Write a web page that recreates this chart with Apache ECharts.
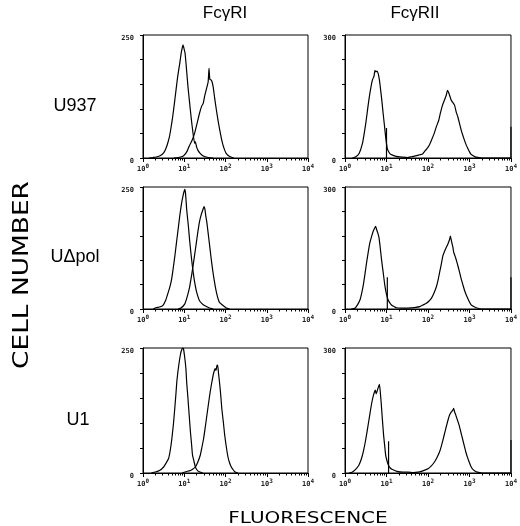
<!DOCTYPE html>
<html>
<head>
<meta charset="utf-8">
<script src="https://cdn.jsdelivr.net/npm/echarts@6/dist/echarts.min.js"></script>
<style>
  html, body { margin: 0; padding: 0; background: #fff; }
  #chart { width: 520px; height: 526px; }
</style>
</head>
<body>
<div id="chart"></div>
<script>
// x = fluorescence in decades (log10), y = cell count per channel
const columnTitles = ['FcγRI', 'FcγRII'];
const rowTitles = ['U937', 'UΔpol', 'U1'];
const yMax = [250, 300];
const yStep = [50, 60];
const decadeExp = ['0', '1', '2', '3', '4'];
const minorFactors = [2, 3, 4, 5, 6, 7, 8, 9];

// U937 / FcγRI : control + antibody
const u937RIctrl = [[0.15,0],[0.24,1],[0.32,2],[0.4,4],[0.46,7],[0.52,13],[0.58,25],[0.64,43],[0.68,62],[0.72,84],[0.76,110],[0.8,138],[0.84,165],[0.89,192],[0.93,215],[0.97,230],[0.99,224],[1.02,213],[1.05,185],[1.09,145],[1.13,112],[1.17,80],[1.21,52],[1.25,30],[1.27,33],[1.3,22],[1.33,16],[1.38,10],[1.46,4],[1.58,1],[1.7,0]];
const u937RIab = [[0.75,0],[0.85,1],[0.95,3],[1.0,6],[1.07,14],[1.13,26],[1.19,36],[1.25,50],[1.31,70],[1.37,91],[1.42,105],[1.46,111],[1.5,128],[1.54,141],[1.58,155],[1.6,182],[1.62,160],[1.66,158],[1.7,145],[1.74,120],[1.78,97],[1.82,76],[1.86,57],[1.9,40],[1.94,26],[1.98,16],[2.02,9],[2.1,3],[2.2,0]];

// U937 / FcγRII
const u937RII = [[0.18,0],[0.26,3],[0.34,11],[0.42,35],[0.46,58],[0.5,84],[0.54,115],[0.58,145],[0.62,170],[0.66,190],[0.7,200],[0.72,214],[0.74,210],[0.77,212],[0.8,206],[0.83,190],[0.86,165],[0.89,138],[0.92,108],[0.95,80],[0.98,51],[1.02,23],[1.06,14],[1.1,9],[1.23,4],[1.39,2],[1.5,1],[1.6,3],[1.7,5],[1.8,8],[1.87,10],[1.91,15],[1.97,22],[2.03,31],[2.09,45],[2.15,60],[2.2,76],[2.26,92],[2.3,110],[2.35,129],[2.4,142],[2.44,153],[2.47,165],[2.5,159],[2.53,150],[2.56,141],[2.6,135],[2.64,129],[2.68,112],[2.72,100],[2.76,84],[2.8,68],[2.84,55],[2.88,43],[2.92,32],[2.96,23],[3.0,15],[3.04,9],[3.1,5],[3.16,2],[3.3,0],[4,0]];
const u937RIIspikes = [[1.0,73],[4.0,76]];

// UΔpol / FcγRI
const udpolRIctrl = [[0.25,0],[0.32,3],[0.4,4],[0.48,7],[0.55,18],[0.6,31],[0.65,45],[0.69,59],[0.73,82],[0.77,107],[0.81,135],[0.85,162],[0.89,190],[0.93,214],[0.97,232],[1.01,245],[1.03,238],[1.06,203],[1.1,170],[1.13,141],[1.17,108],[1.21,79],[1.25,56],[1.29,38],[1.33,26],[1.37,17],[1.43,11],[1.49,7],[1.61,2],[1.7,0]];
const udpolRIab = [[0.85,0],[0.92,2],[1.01,10],[1.07,25],[1.13,45],[1.17,65],[1.21,86],[1.25,110],[1.29,134],[1.33,158],[1.37,179],[1.41,193],[1.45,203],[1.48,210],[1.5,205],[1.52,192],[1.55,176],[1.58,155],[1.61,134],[1.65,105],[1.69,79],[1.73,57],[1.77,38],[1.81,24],[1.85,14],[1.94,7],[2.02,2],[2.1,0]];

// UΔpol / FcγRII
const udpolRII = [[0.15,0],[0.24,2],[0.3,10],[0.36,22],[0.4,38],[0.44,58],[0.48,85],[0.52,114],[0.56,140],[0.6,163],[0.64,178],[0.68,191],[0.71,198],[0.74,203],[0.76,196],[0.79,187],[0.82,175],[0.85,150],[0.88,122],[0.92,90],[0.96,58],[1.0,36],[1.04,22],[1.08,15],[1.12,10],[1.18,6],[1.24,3],[1.35,2],[1.48,2],[1.6,3],[1.7,4],[1.8,6],[1.88,10],[1.96,14],[2.02,19],[2.08,26],[2.14,38],[2.2,54],[2.24,70],[2.28,90],[2.32,110],[2.36,131],[2.4,142],[2.44,151],[2.48,160],[2.52,171],[2.54,179],[2.57,165],[2.6,152],[2.62,139],[2.66,128],[2.7,114],[2.75,95],[2.8,74],[2.84,60],[2.88,46],[2.92,35],[2.96,26],[3.0,17],[3.04,10],[3.1,6],[3.16,3],[3.3,0],[4,0]];
const udpolRIIspikes = [[1.02,78],[4.0,78]];

// U1 / FcγRI
const u1RIctrl = [[0.2,0],[0.3,2],[0.4,5],[0.5,12],[0.56,20],[0.62,29],[0.66,45],[0.7,69],[0.74,100],[0.77,129],[0.8,160],[0.82,183],[0.85,205],[0.88,223],[0.91,238],[0.94,247],[0.96,250],[0.98,249],[1.01,232],[1.04,209],[1.06,180],[1.09,149],[1.12,115],[1.15,82],[1.18,55],[1.2,36],[1.24,22],[1.27,12],[1.31,6],[1.35,3],[1.45,0]];
const u1RIab = [[0.95,0],[1.02,2],[1.1,4],[1.15,5],[1.21,8],[1.27,12],[1.33,22],[1.39,36],[1.43,52],[1.47,69],[1.51,92],[1.55,116],[1.59,140],[1.63,163],[1.67,182],[1.71,199],[1.75,209],[1.77,205],[1.79,214],[1.81,216],[1.83,200],[1.85,185],[1.87,169],[1.89,150],[1.91,129],[1.95,100],[1.98,76],[2.02,52],[2.06,32],[2.1,20],[2.14,12],[2.19,6],[2.23,2],[2.3,0]];

// U1 / FcγRII
const u1RII = [[0.1,0],[0.17,2],[0.25,8],[0.33,18],[0.37,27],[0.41,39],[0.45,55],[0.49,75],[0.53,98],[0.57,123],[0.61,148],[0.65,171],[0.69,188],[0.73,199],[0.75,190],[0.77,195],[0.8,205],[0.83,213],[0.85,195],[0.87,171],[0.9,130],[0.93,91],[0.96,62],[0.98,43],[1.01,30],[1.05,18],[1.09,12],[1.13,9],[1.25,4],[1.4,2],[1.52,2],[1.65,1],[1.76,2],[1.84,4],[1.92,7],[2.0,10],[2.08,17],[2.16,27],[2.22,38],[2.28,51],[2.32,64],[2.36,79],[2.4,95],[2.44,111],[2.48,126],[2.52,139],[2.56,146],[2.6,151],[2.62,155],[2.64,147],[2.67,139],[2.71,127],[2.75,115],[2.79,99],[2.83,83],[2.87,67],[2.91,51],[2.95,38],[2.99,27],[3.03,17],[3.07,10],[3.13,5],[3.19,2],[3.3,0],[4,0]];
const u1RIIspikes = [[1.05,76],[4.0,79]];

const panels = [
  { row: 0, col: 0, curves: [u937RIctrl, u937RIab], spikes: [] },
  { row: 0, col: 1, curves: [u937RII], spikes: u937RIIspikes },
  { row: 1, col: 0, curves: [udpolRIctrl, udpolRIab], spikes: [] },
  { row: 1, col: 1, curves: [udpolRII], spikes: udpolRIIspikes },
  { row: 2, col: 0, curves: [u1RIctrl, u1RIab], spikes: [] },
  { row: 2, col: 1, curves: [u1RII], spikes: u1RIIspikes }
];

const colLeft = [143, 345];
const colWidth = [165, 167];
const rowTop = [35, 187, 348];
const rowHeight = [123, 122, 125];

// minor log ticks between decades
const minorTicks = [];
for (let d = 0; d < 4; d++) {
  minorFactors.forEach(function (k) { minorTicks.push(d + Math.log10(k)); });
}

const tickFont = 'DejaVu Sans Mono';
const grid = [], xAxis = [], yAxis = [], series = [];

panels.forEach(function (p, i) {
  grid.push({
    left: colLeft[p.col], top: rowTop[p.row],
    width: colWidth[p.col], height: rowHeight[p.row],
    show: true, borderColor: '#000', borderWidth: 1
  });
  // decades, with labels
  xAxis.push({
    type: 'value', gridIndex: i, min: 0, max: 4, interval: 1, position: 'bottom',
    axisLine: { show: true, onZero: false, lineStyle: { color: '#000', width: 1 } },
    axisTick: { show: true, length: 4, lineStyle: { color: '#000' } },
    splitLine: { show: false },
    axisLabel: {
      margin: 5, color: '#222',
      showMinLabel: true, showMaxLabel: true,
      formatter: function (v) { return '{b|10}{e|' + decadeExp[Math.round(v)] + '}'; },
      rich: {
        b: { fontFamily: tickFont, fontWeight: 'bold', fontSize: 7, lineHeight: 10, verticalAlign: 'bottom' },
        e: { fontFamily: tickFont, fontWeight: 'bold', fontSize: 6, lineHeight: 6, verticalAlign: 'top' }
      }
    }
  });
  // minor ticks only
  xAxis.push({
    type: 'value', gridIndex: i, min: 0, max: 4, position: 'bottom',
    axisLine: { show: false },
    axisLabel: { show: false },
    splitLine: { show: false },
    axisTick: { show: true, length: 2.5, customValues: minorTicks, lineStyle: { color: '#000' } }
  });
  const top = yMax[p.col];
  yAxis.push({
    type: 'value', gridIndex: i, min: 0, max: top, interval: yStep[p.col],
    axisLine: { show: true, lineStyle: { color: '#000', width: 1 } },
    axisTick: { show: true, length: 3, lineStyle: { color: '#000' } },
    splitLine: { show: false },
    axisLabel: {
      margin: 9, fontFamily: tickFont, fontWeight: 'bold', fontSize: 7, color: '#222',
      verticalAlign: 'top', showMinLabel: true, showMaxLabel: true,
      formatter: function (v) { return (v === 0 || v === top) ? String(v) : ''; }
    }
  });
  p.curves.forEach(function (c) {
    series.push({
      type: 'line', xAxisIndex: 2 * i, yAxisIndex: i, data: c,
      showSymbol: false, smooth: 0.15,
      lineStyle: { color: '#000', width: 1.2 }
    });
  });
  p.spikes.forEach(function (s) {
    series.push({
      type: 'line', xAxisIndex: 2 * i, yAxisIndex: i,
      data: [[s[0], 0], [s[0], s[1]]],
      showSymbol: false, lineStyle: { color: '#000', width: 1.2 }
    });
  });
});

const labelFont = 'Liberation Sans';
const graphic = [
  { type: 'text', x: 225, y: 13, style: { text: columnTitles[0], font: '17px ' + labelFont, fill: '#000', align: 'center', verticalAlign: 'middle' } },
  { type: 'text', x: 415, y: 13, style: { text: columnTitles[1], font: '17px ' + labelFont, fill: '#000', align: 'center', verticalAlign: 'middle' } },
  { type: 'text', x: 75, y: 106, style: { text: rowTitles[0], font: '18px ' + labelFont, fill: '#000', align: 'center', verticalAlign: 'middle' } },
  { type: 'text', x: 75, y: 257, style: { text: rowTitles[1], font: '18px ' + labelFont, fill: '#000', align: 'center', verticalAlign: 'middle' } },
  { type: 'text', x: 78, y: 420, style: { text: rowTitles[2], font: '18px ' + labelFont, fill: '#000', align: 'center', verticalAlign: 'middle' } },
  { type: 'text', x: 22, y: 275, rotation: Math.PI / 2, scaleX: 1.2,
    style: { text: 'CELL NUMBER', font: '22px DejaVu Sans', fill: '#000', align: 'center', verticalAlign: 'middle' } },
  { type: 'text', x: 308, y: 519, scaleX: 1.25,
    style: { text: 'FLUORESCENCE', font: '16px DejaVu Sans', fill: '#000', align: 'center', verticalAlign: 'middle' } }
];

const chart = echarts.init(document.getElementById('chart'));
chart.setOption({
  animation: false,
  backgroundColor: '#fff',
  grid: grid,
  xAxis: xAxis,
  yAxis: yAxis,
  series: series,
  graphic: graphic
});
</script>
</body>
</html>
